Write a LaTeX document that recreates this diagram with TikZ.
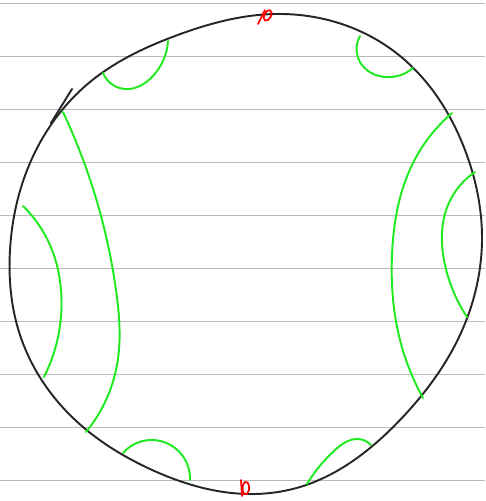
\documentclass[tikz,border=0pt]{standalone}
\usetikzlibrary{hobby}
\definecolor{pen}{RGB}{30,235,30}
\begin{document}
\begin{tikzpicture}[x=0.02cm,y=-0.02cm,use Hobby shortcut,
rule/.style={gray!55,line width=0.5pt},
rim/.style={black!85,line width=1.1pt,line cap=round},
geod/.style={pen,line width=1.1pt,line cap=round},
tick/.style={red,line width=1pt,line cap=round}]
\useasboundingbox (0,0) rectangle (485,501);
% ruled paper
\foreach \y in {3,56,109,162,215,268,321,374,427,480}
  \draw[rule] (0,\y) -- (485,\y);
% boundary curve
\draw[rim,closed=true] (275,14) .. (395,52) .. (465,150) .. (482,240)
 .. (460,335) .. (400,420) .. (300,487) .. (255,494) .. (150,469)
 .. (70,415) .. (20,335) .. (10,250) .. (30,163) .. (90,82) .. (175,36);
\draw[rim] (51,123) -- (72,89);
% green arcs
\draw[geod] (103,73) .. (125,89) .. (152,77) .. (168,41);
\draw[geod] (360,36) .. (360,62) .. (385,77) .. (413,68);
\draw[geod] (63,112) .. (95,195) .. (116,290) .. (117,365) .. (86,432);
\draw[geod] (23,206) .. (50,245) .. (61,290) .. (44,377);
\draw[geod] (452,113) .. (413,163) .. (392,255) .. (400,340) .. (423,398);
\draw[geod] (475,172) .. (448,205) .. (445,265) .. (467,317);
\draw[geod] (123,453) .. (153,440) .. (182,455) .. (190,480);
\draw[geod] (307,484) .. (335,450) .. (358,439) .. (371,445);
% red marks
\draw[tick] (258,24) -- (265,10);
\draw[tick] (267,11) .. controls (262,15) and (263,23) .. (268,20) .. controls (273,16) and (273,8) .. (267,11);
\draw[tick] (241,480) -- (242,496);
\draw[tick] (245,482) .. controls (240,487) and (243,497) .. (247,494) .. controls (251,490) and (249,480) .. (245,482);
\end{tikzpicture}
\end{document}
